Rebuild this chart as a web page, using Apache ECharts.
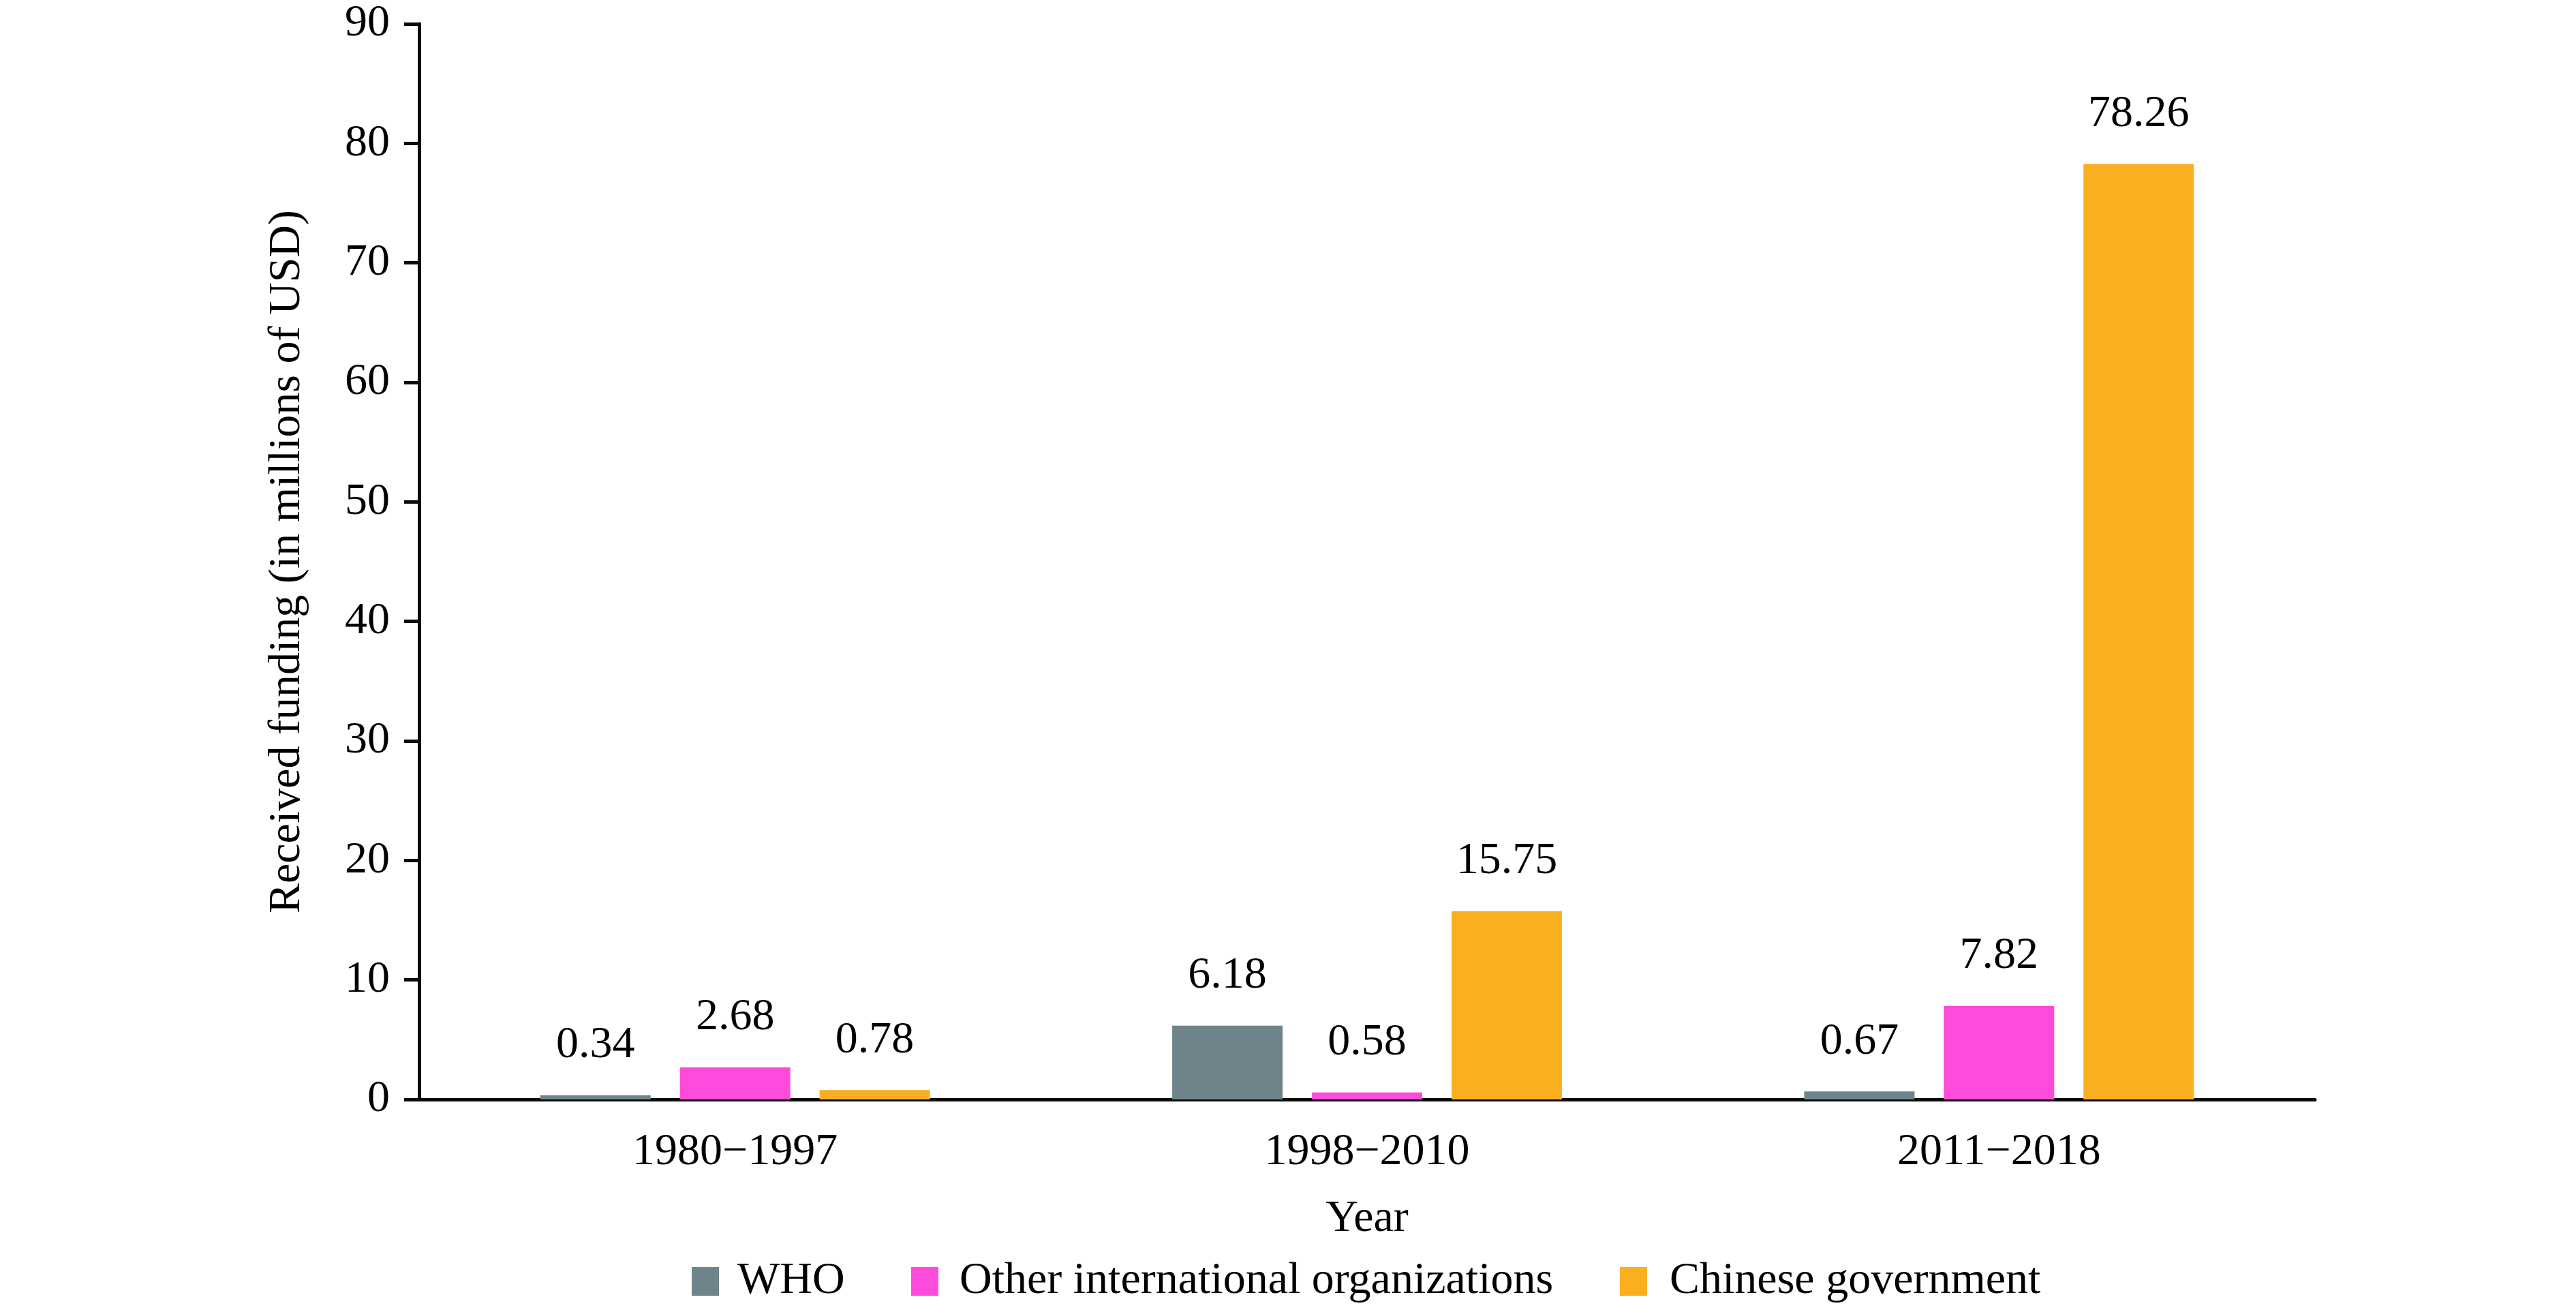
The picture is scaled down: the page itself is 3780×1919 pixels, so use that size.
<!DOCTYPE html>
<html>
<head>
<meta charset="utf-8">
<script src="https://cdn.jsdelivr.net/npm/echarts@6/dist/echarts.min.js"></script>
<style>html,body{margin:0;padding:0;background:#fff;}#c{width:3780px;height:1919px;}</style>
</head>
<body>
<div id="c"></div>
<script>
const categories = ['1980\u22121997', '1998\u22122010', '2011\u22122018'];
const seriesNames = ['WHO', 'Other international organizations', 'Chinese government'];
const whoValues = [0.34, 6.18, 0.67];
const otherValues = [2.68, 0.58, 7.82];
const chineseValues = [0.78, 15.75, 78.26];
const yTicks = [0, 10, 20, 30, 40, 50, 60, 70, 80, 90];
const colors = ['#6f848a', '#ff4bdb', '#f9af1f'];

const FONT = 'Liberation Serif';
const FS = 66;
const chart = echarts.init(document.getElementById('c'), null, {renderer: 'canvas'});

function mkSeries(name, data, color) {
  return {
    name: name,
    type: 'bar',
    data: data,
    barWidth: 162,
    barGap: '26.5%',
    itemStyle: {color: color},
    label: {
      show: true,
      position: 'top',
      distance: 40,
      color: '#000',
      fontFamily: FONT,
      fontSize: FS,
      formatter: p => p.value.toFixed(2)
    },
    emphasis: {disabled: true}
  };
}

const legendLefts = [1010, 1332, 2372];
const legendPads = [22, 26, 28];
function mkLegend(i) {
  return {
    bottom: 1,
    left: legendLefts[i],
    itemWidth: 40,
    itemHeight: 42,
    icon: 'rect',
    selectedMode: false,
    textStyle: {fontFamily: FONT, fontSize: FS, color: '#000', padding: [0, 0, 0, legendPads[i]]},
    data: [seriesNames[i]]
  };
}

chart.setOption({
  animation: false,
  backgroundColor: '#fff',
  textStyle: {fontFamily: FONT},
  grid: {left: 615, right: 383, top: 35, bottom: 306, containLabel: false},
  legend: [mkLegend(0), mkLegend(1), mkLegend(2)],
  xAxis: {
    type: 'category',
    data: categories,
    name: 'Year',
    nameLocation: 'middle',
    nameGap: 143,
    nameTextStyle: {fontFamily: FONT, fontSize: FS, color: '#000'},
    axisLine: {lineStyle: {color: '#0a0c0c', width: 5}},
    axisTick: {show: false},
    axisLabel: {margin: 45, fontFamily: FONT, fontSize: FS, color: '#000'}
  },
  yAxis: {
    type: 'value',
    min: yTicks[0],
    max: yTicks[yTicks.length - 1],
    interval: 10,
    name: 'Received funding (in millions of USD)',
    nameLocation: 'middle',
    nameGap: 160,
    nameTextStyle: {fontFamily: FONT, fontSize: FS, color: '#000'},
    axisLine: {show: true, lineStyle: {color: '#0a0c0c', width: 5}},
    axisTick: {show: true, length: 22, lineStyle: {color: '#0a0c0c', width: 5}},
    axisLabel: {margin: 43, fontFamily: FONT, fontSize: FS, color: '#000'},
    splitLine: {show: false}
  },
  series: [
    mkSeries(seriesNames[0], whoValues, colors[0]),
    mkSeries(seriesNames[1], otherValues, colors[1]),
    mkSeries(seriesNames[2], chineseValues, colors[2])
  ]
});
</script>
</body>
</html>
